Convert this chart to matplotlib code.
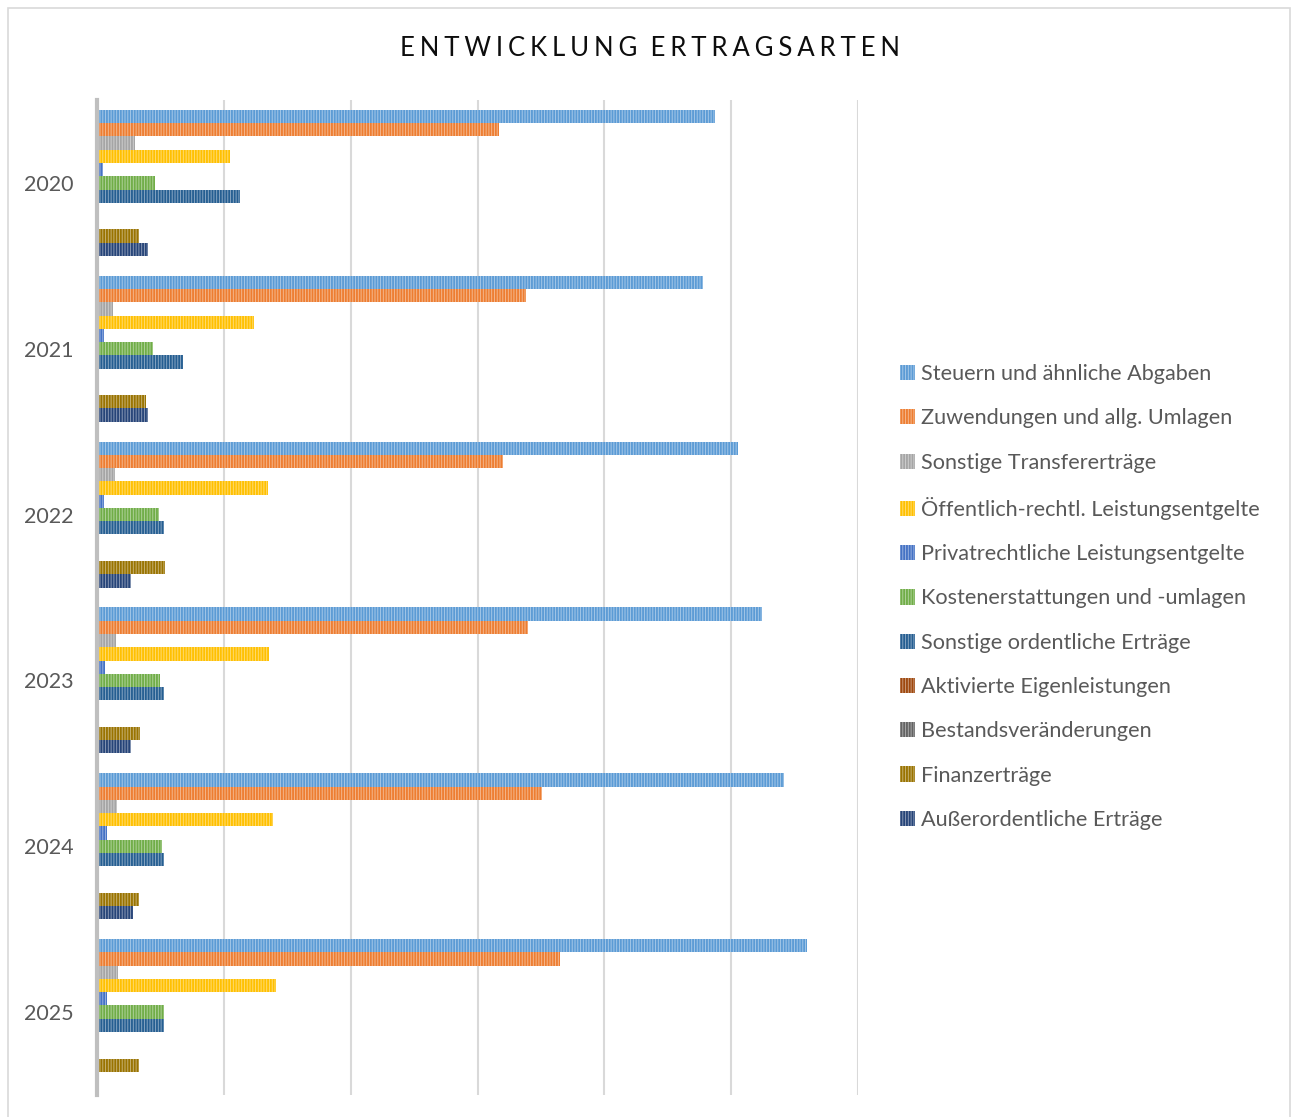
import matplotlib
matplotlib.use("Agg")
import matplotlib.pyplot as plt
from matplotlib.patches import Patch, Rectangle
from matplotlib.colors import to_rgb

plt.rcParams.update({"font.family": ["Lato", "DejaVu Sans"], "hatch.linewidth": 1.3})

# Daten (Einheit = Gitterlinienabstand)
YEARS = ["2020", "2021", "2022", "2023", "2024", "2025"]
SERIES = ["Steuern und ähnliche Abgaben", "Zuwendungen und allg. Umlagen",
          "Sonstige Transfererträge", "Öffentlich-rechtl. Leistungsentgelte",
          "Privatrechtliche Leistungsentgelte", "Kostenerstattungen und -umlagen",
          "Sonstige ordentliche Erträge", "Aktivierte Eigenleistungen",
          "Bestandsveränderungen", "Finanzerträge", "Außerordentliche Erträge"]
steuern      = [4.87, 4.78, 5.05, 5.24, 5.42, 5.60]
zuwendungen  = [3.17, 3.38, 3.20, 3.40, 3.51, 3.65]
transfer     = [0.30, 0.13, 0.14, 0.15, 0.16, 0.165]
oeffentlich  = [1.05, 1.24, 1.35, 1.36, 1.39, 1.41]
privat       = [0.05, 0.055, 0.055, 0.06, 0.08, 0.076]
kosten       = [0.46, 0.44, 0.49, 0.50, 0.51, 0.525]
sonstige     = [1.13, 0.68, 0.53, 0.53, 0.53, 0.525]
aktiviert    = [0, 0, 0, 0, 0, 0]
bestand      = [0, 0, 0, 0, 0, 0]
finanz       = [0.33, 0.39, 0.54, 0.34, 0.33, 0.33]
ausserord    = [0.40, 0.40, 0.27, 0.27, 0.28, 0.0]
VALUES = [steuern, zuwendungen, transfer, oeffentlich, privat, kosten,
          sonstige, aktiviert, bestand, finanz, ausserord]
COLORS = ["#5B9BD5", "#ED7D31", "#A5A5A5", "#FFC000", "#4472C4", "#70AD47",
          "#255E91", "#9E480E", "#636363", "#997300", "#264478"]


def tint(c, f=0.45):
    r, g, b = to_rgb(c)
    return (r + (1 - r) * f, g + (1 - g) * f, b + (1 - b) * f)


fig = plt.figure(figsize=(12.99, 11.17), dpi=100)
fig.patches.append(Rectangle((8 / 1299, -0.01), 1282 / 1299, 1.0 - 8 / 1117 + 0.01,
                             transform=fig.transFigure, fill=False,
                             edgecolor="#D9D9D9", linewidth=1.2))
ax = fig.add_axes([97 / 1299, 1 - 1095 / 1117, (858 - 97) / 1299, (1095 - 100) / 1117])

n = len(SERIES)
bw = 0.08
for j, (name, vals, col) in enumerate(zip(SERIES, VALUES, COLORS)):
    ys = [i + (j - (n - 1) / 2) * bw for i in range(len(YEARS))]
    ax.barh(ys, vals, height=bw, color=tint(col), edgecolor=col, linewidth=0,
            hatch="||||||", zorder=3)

ax.set_xlim(0, 6)
ax.set_ylim(5.5, -0.5)
ax.set_xticks(range(0, 7))
ax.set_xticklabels([])
ax.tick_params(axis="x", length=0)
ax.set_yticks(range(len(YEARS)))
ax.set_yticklabels(YEARS, fontsize=15.5, color="#595959")
ax.tick_params(axis="y", length=0, pad=17)
ax.grid(axis="x", color="#D9D9D9", linewidth=1.5, zorder=0)
for s in ("top", "right", "bottom"):
    ax.spines[s].set_visible(False)
ax.spines["left"].set_color("#BFBFBF")
ax.spines["left"].set_linewidth(3)
ax.spines["left"].set_zorder(4)

title = "\u2009\u200a".join("ENTWICKLUNG") + "\u2009 \u2009" + "\u2009\u200a".join("ERTRAGSARTEN")
fig.text(0.5, 1 - 48 / 1117, title, ha="center", va="center", fontsize=18.5, color="#0D0D0D")

handles = [Patch(facecolor=tint(c), edgecolor=c, linewidth=0, hatch="||||||") for c in COLORS]
fig.legend(handles, SERIES, loc="center left", bbox_to_anchor=(880 / 1299, 1 - 597 / 1117),
           frameon=False, fontsize=15.6, labelcolor="#595959", handlelength=0.7,
           handleheight=0.7, handletextpad=0.3, labelspacing=1.12)

fig.savefig("out.png", dpi=100)
